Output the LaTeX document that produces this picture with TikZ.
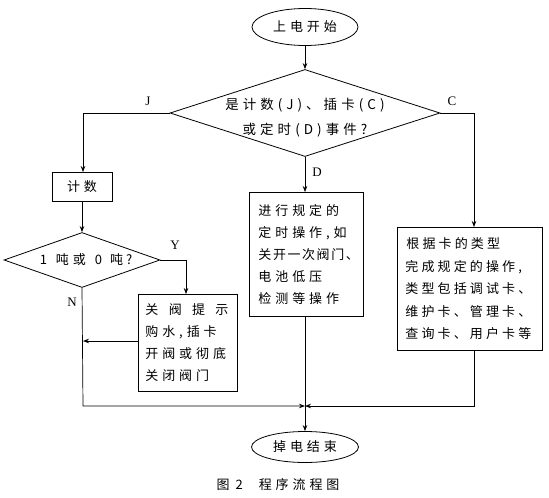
\documentclass[tikz,border=0pt]{standalone}
\usepackage{fontspec}
\setmainfont{Liberation Serif}
\newfontfamily\cjk[LetterSpace=30]{Noto Sans CJK SC}
\newfontfamily\cjkmid[LetterSpace=24]{Noto Sans CJK SC}
\newfontfamily\cjktight[LetterSpace=12]{Noto Sans CJK SC}
\usetikzlibrary{shapes.geometric,arrows.meta}
\begin{document}
\begin{tikzpicture}[x=1pt,y=-1pt,
  every node/.style={font=\cjk\fontsize{13}{22}\selectfont, inner sep=0pt},
  arr/.style={line width=0.7pt,-{Stealth[length=6pt,width=4.5pt]}},
  term/.style={draw,line width=0.8pt,ellipse},
  procbox/.style={draw,line width=0.9pt,rectangle,align=left,anchor=north west},
  decision/.style={draw,line width=0.8pt,diamond,align=center},
  lab/.style={font=\fontsize{13}{13}\selectfont}]
\useasboundingbox[fill=white] (0,0) rectangle (549,498);
% nodes
\node[term,minimum width=106pt,minimum height=37pt] (start) at (305,27) {上电开始};
\node[decision,minimum width=270pt,minimum height=87pt,aspect=3.1] (dia) at (305,113) {};
\node[align=center,font=\cjk\fontsize{13.5}{25}\selectfont] (diatext) at (305,118) {是计数(J)、插卡(C)\\或定时(D)事件?};
\node[draw,line width=0.9pt,minimum width=60pt,minimum height=29pt] (count) at (82,187) {计数};
\node[decision,minimum width=156pt,minimum height=55pt,aspect=2.84] (dia2) at (82,260) {};
\node (dia2text) at (86,260) {1\hspace{9pt}吨或\hspace{9pt}0\hspace{8pt}吨\hspace{3pt}?};
\node[procbox,minimum width=99pt,minimum height=97pt,text width=85pt,inner xsep=7pt,inner ysep=6pt] (valve) at (138,294) {\makebox[83pt][s]{关\hfill 阀\hfill 提\hfill 示}\\购水,插卡\\开阀或彻底\\关闭阀门};
\node[procbox,minimum width=114pt,minimum height=124pt,text width=104pt,inner xsep=5pt,inner ysep=8pt] (op) at (249,192) {\hspace*{4pt}进行规定的\\\hspace*{4pt}定时操作,如\\\hspace*{4pt}{\cjktight 关开一次阀门、}\\\hspace*{4pt}电池低压\\\hspace*{4pt}检测等操作};
\node[procbox,minimum width=145pt,minimum height=123pt,text width=137pt,inner xsep=4pt,inner ysep=8pt,font=\cjkmid\fontsize{13}{22.5}\selectfont] (card) at (397,227) {\hspace*{5pt}根据卡的类型\\\hspace*{4pt}完成规定的操作,\\\hspace*{4pt}类型包括调试卡、\\\hspace*{4pt}维护卡、管理卡、\\\hspace*{4pt}查询卡、用户卡等};
\node[term,minimum width=107pt,minimum height=31pt] (stop) at (305,447) {掉电结束};
\node (cap) at (278,485) {图\hspace{6pt}2\hspace{16pt}程序流程图};
\coordinate (jn) at (305,406);
\coordinate (nl) at (83,341);
% connectors
\draw[arr] (start) -- (dia);
\draw[arr] (dia.west) -- (83,113) -- (count.north -| 83,0);
\draw[arr] (dia.east) -- (474,113) -- (card.north -| 474,0);
\draw[arr] (dia.south) -- (op.north -| dia.south);
\draw[arr] (count) -- (dia2);
\draw[arr] (dia2.east) -- (186,260) -- (valve.north -| 186,0);
\draw[arr] (valve.west |- nl) -- (nl);
\draw[arr] (dia2.south) -- (83,406) -- (jn);
\draw[arr] (card.south -| 474,0) -- (474,406) -- (jn);
\draw[arr] (op.south -| jn) -- (stop.north);
% labels
\node[lab] at (148,101) {J};
\node[lab] at (452,101) {C};
\node[lab] at (317,172) {D};
\node[lab] at (175,245) {Y};
\node[lab] at (72,302) {N};
\end{tikzpicture}
\end{document}
